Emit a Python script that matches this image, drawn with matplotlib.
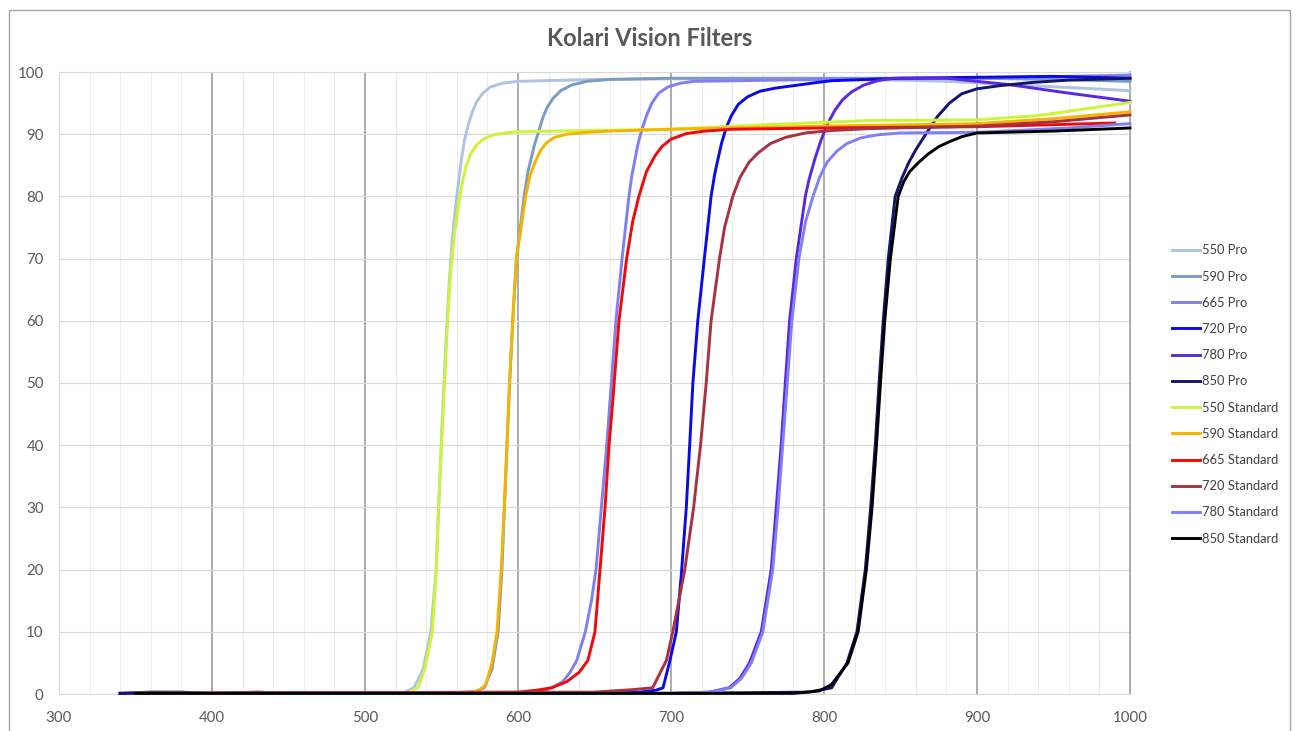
import numpy as np
import matplotlib
matplotlib.use("Agg")
import matplotlib.pyplot as plt
from matplotlib.patches import Rectangle

plt.rcParams['font.family'] = ['Lato', 'DejaVu Sans']

# transmission curves (wavelength nm, transmission %)
wl_550_pro = [340, 450, 525, 532, 538, 543, 546.5, 549, 551, 553, 555, 557, 559, 561, 563, 565, 567.5, 570, 573, 577, 582, 590, 600, 650, 700, 750, 800, 850, 880, 920, 960, 1000]
t_550_pro = [0.1, 0.1, 0.2, 1, 4, 10, 20, 35, 47, 57, 66, 73, 78, 82, 86, 89, 91.5, 93.5, 95.2, 96.6, 97.6, 98.2, 98.5, 98.8, 98.9, 98.9, 98.8, 98.7, 98.5, 98.0, 97.5, 97.0]

wl_590_pro = [340, 560, 572, 578, 583, 587, 589.5, 592, 594.5, 597, 599, 601.5, 604, 606.5, 609, 611, 613, 616, 619, 623, 628, 635, 645, 660, 700, 800, 900, 950, 1000]
t_590_pro = [0.1, 0.2, 0.4, 1, 4, 10, 20, 35, 50, 62, 70, 75, 80, 84, 86.5, 88.5, 90, 92.5, 94.3, 95.8, 97, 97.9, 98.5, 98.8, 99.0, 99.0, 99.0, 98.8, 98.5]

wl_665_pro = [340, 600, 615, 622, 629.4, 634, 638.4, 644, 648, 651, 654.5, 658, 661, 664, 668, 672.5, 674.5, 676.5, 678.5, 681, 684, 687.5, 692, 698, 706, 715, 800, 900, 1000]
t_665_pro = [0.1, 0.2, 0.4, 1, 2, 3.5, 5.4, 10, 15, 20, 30, 40, 50, 60, 70, 80, 83.5, 86, 88.5, 90.8, 93, 95, 96.6, 97.6, 98.2, 98.5, 98.8, 99.0, 99.5]

wl_720_pro = [340, 650, 680, 690, 694.8, 699.3, 703.5, 707, 710, 712.2, 714.3, 717.5, 721.8, 726.2, 728.5, 730.7, 733, 736, 739.5, 744, 750, 758, 768, 780, 795, 805, 850, 950, 1000]
t_720_pro = [0.1, 0.1, 0.3, 0.6, 1, 5.4, 10, 20, 30, 40, 50, 60, 70, 80, 83.5, 86, 88.5, 91, 93, 94.8, 96, 96.9, 97.4, 97.8, 98.3, 98.6, 99.0, 99.3, 99.0]

wl_780_pro = [340, 700, 725, 738, 745, 751.3, 759, 765.5, 768.8, 772, 774.7, 777.5, 781.9, 787.8, 790, 794, 798, 802, 807, 812, 818, 826, 835, 845, 880, 920, 960, 1000]
t_780_pro = [0.1, 0.1, 0.3, 1, 2.5, 5, 10, 20, 30, 40, 50, 60, 70, 80, 82.5, 86, 89, 91.5, 93.8, 95.5, 96.8, 97.9, 98.6, 99.0, 99.0, 98.0, 96.6, 95.3]

wl_850_pro = [340, 360, 380, 400, 430, 450, 700, 790, 805, 815, 821.5, 827, 830.5, 833.5, 836, 838.7, 842, 846.5, 851, 855.5, 860, 867, 874, 882, 890, 900, 915, 935, 960, 1000]
t_850_pro = [0.1, 0.3, 0.3, 0.1, 0.3, 0.1, 0.1, 0.3, 1, 5, 10, 20, 30, 40, 50, 60, 70, 80, 83, 85.5, 87.5, 90.2, 92.8, 95, 96.5, 97.3, 97.8, 98.3, 98.7, 99.0]

wl_550_std = [350, 450, 528, 534.6, 539, 544, 546.6, 548, 550, 552, 554, 556, 559, 561, 563.5, 566, 569, 573, 578, 584, 592, 600, 700, 760, 830, 900, 940, 1000]
t_550_std = [0.1, 0.1, 0.2, 1, 4, 10, 20, 30, 40, 50, 60, 68, 75, 78.5, 82, 84.8, 86.8, 88.3, 89.3, 89.9, 90.2, 90.4, 90.8, 91.5, 92.2, 92.3, 93.0, 95.1]

wl_590_std = [350, 565, 574, 579, 583, 586.3, 589, 591, 594.5, 597, 599, 602, 605, 608, 612, 615, 619, 624, 632, 645, 660, 700, 800, 900, 950, 1000]
t_590_std = [0.1, 0.2, 0.5, 1.5, 5, 10, 20, 30, 50, 62, 70, 75, 80, 83.5, 86, 87.5, 88.7, 89.5, 90, 90.3, 90.5, 90.8, 91.3, 91.7, 92.5, 93.6]

wl_665_std = [350, 600, 612, 622, 632, 640, 645.7, 650.3, 653.6, 656.9, 659.5, 662, 666, 671, 675, 679, 684, 689.5, 694, 700, 710, 722, 740, 800, 900, 990]
t_665_std = [0.1, 0.3, 0.6, 1, 2, 3.5, 5.4, 10, 20, 30, 40, 47.3, 60, 70, 76, 80, 84, 86.5, 88, 89.2, 90.1, 90.5, 90.8, 91.0, 91.2, 91.8]

wl_720_std = [350, 650, 675, 688, 697, 701.2, 709, 714.8, 719.3, 723, 726.2, 731.7, 735, 740.4, 745, 751, 757, 765, 775, 788, 805, 830, 900, 950, 1000]
t_720_std = [0.1, 0.3, 0.7, 1, 5.4, 10, 20, 30, 40, 50, 60, 70, 75, 80, 83, 85.5, 87, 88.5, 89.5, 90.2, 90.6, 90.9, 91.3, 92.0, 93.1]

wl_780_std = [350, 700, 726, 739, 746, 752.5, 760, 766.5, 770, 773, 776, 779, 783.6, 788, 792.8, 797, 802, 808.5, 815, 824, 835, 850, 900, 960, 1000]
t_780_std = [0.1, 0.1, 0.3, 1, 2.5, 5, 10, 20, 30, 40, 50, 60, 70, 76, 80, 83, 85.5, 87.3, 88.5, 89.4, 89.9, 90.2, 90.3, 91.0, 91.7]

wl_850_std = [350, 780, 797, 804.8, 815.7, 822.3, 827.7, 831.4, 834.3, 836.9, 839.7, 843.4, 848.5, 852, 856, 862, 868, 875, 882, 890, 900, 950, 1000]
t_850_std = [0.1, 0.1, 0.5, 1.5, 5, 10, 20, 30, 40, 50, 60, 70, 80, 82.3, 84, 85.5, 86.8, 88, 88.8, 89.6, 90.2, 90.5, 91.0]

labels = ["550 Pro", "590 Pro", "665 Pro", "720 Pro", "780 Pro", "850 Pro",
          "550 Standard", "590 Standard", "665 Standard", "720 Standard", "780 Standard", "850 Standard"]
colors = ["#adc3e0", "#7b9cc2", "#7f7ff0", "#0a0ae6", "#5a28e0", "#14146e",
          "#ccf53a", "#f5b400", "#ee0a0a", "#a83240", "#8080f2", "#000000"]
series_wl = [wl_550_pro, wl_590_pro, wl_665_pro, wl_720_pro, wl_780_pro, wl_850_pro,
             wl_550_std, wl_590_std, wl_665_std, wl_720_std, wl_780_std, wl_850_std]
series_t = [t_550_pro, t_590_pro, t_665_pro, t_720_pro, t_780_pro, t_850_pro,
            t_550_std, t_590_std, t_665_std, t_720_std, t_780_std, t_850_std]

fig = plt.figure(figsize=(12.98, 7.31), dpi=100)
ax = fig.add_axes([59 / 1298, 1 - 694 / 731, (1130 - 59) / 1298, (694 - 72) / 731])

# outer chart border
fig.patches.append(Rectangle((9 / 1298, -0.05), (1290 - 9) / 1298, 1.05 - 10 / 731,
                             transform=fig.transFigure, fill=False, edgecolor="#a6a6a6", lw=1.0))

for wl, t, lab, c in zip(series_wl, series_t, labels, colors):
    ax.plot(wl, t, color=c, lw=2.1, label=lab, clip_on=False, zorder=3,
            solid_joinstyle="round")

ax.set_xlim(300, 1000)
ax.set_ylim(0, 100)
ax.set_xticks(np.arange(300, 1001, 100))
ax.set_yticks(np.arange(0, 101, 10))
ax.set_xticks(np.arange(300, 1001, 20), minor=True)

ax.grid(which="minor", axis="x", color="#ededed", lw=0.8, zorder=0)
ax.grid(which="major", axis="y", color="#d9d9d9", lw=0.8, zorder=0)
for xv in range(400, 1000, 100):
    ax.axvline(xv, color="#a6a6a6", lw=1.3, zorder=1)

for side in ["top", "left", "bottom"]:
    ax.spines[side].set_color("#d9d9d9")
ax.spines["right"].set_color("#a6a6a6")
ax.spines["right"].set_linewidth(1.3)

ax.tick_params(which="both", length=0, colors="#595959", labelsize=10.8)
ax.tick_params(axis="y", pad=11)
ax.tick_params(axis="x", pad=12)

fig.text(650 / 1298, 1 - 38 / 731, "Kolari Vision Filters", ha="center", va="center",
         fontsize=17, fontweight="bold", color="#595959")

ax.legend(loc="center left", bbox_to_anchor=(1172 / 1298, 1 - 394.5 / 731),
          bbox_transform=fig.transFigure, frameon=False, fontsize=9.3,
          handlelength=2.2, handletextpad=0.15, labelspacing=1.1,
          borderpad=0, borderaxespad=0, labelcolor="#404040")

fig.savefig("out.png", dpi=100)
